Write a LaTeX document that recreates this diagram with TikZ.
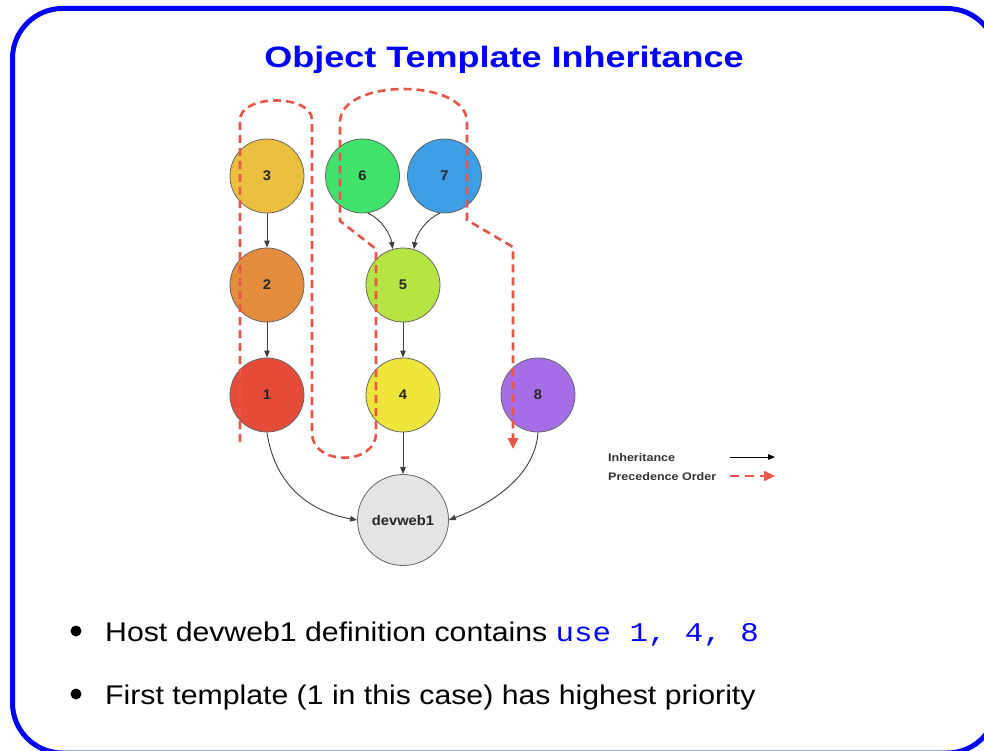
\documentclass[tikz,border=0pt]{standalone}
\usepackage{fontspec}
\setmainfont{Liberation Sans}
\newfontfamily\titlefont{Liberation Sans}[FakeStretch=1.22]
\newfontfamily\bodyfont{Liberation Sans}[FakeStretch=1.12]
\newfontfamily\codefont{Liberation Mono}[FakeStretch=1.14]
\newfontfamily\labfont{Liberation Sans}[FakeStretch=1.05]
\newfontfamily\legfont{Liberation Sans}[FakeStretch=1.14]
\usetikzlibrary{arrows.meta}
\definecolor{c3}{RGB}{235,192,63}
\definecolor{c2}{RGB}{229,141,63}
\definecolor{c1}{RGB}{230,75,58}
\definecolor{c6}{RGB}{63,226,106}
\definecolor{c7}{RGB}{61,158,228}
\definecolor{c5}{RGB}{182,228,67}
\definecolor{c4}{RGB}{237,229,58}
\definecolor{c8}{RGB}{165,110,230}
\definecolor{cdev}{RGB}{228,228,228}
\definecolor{preccol}{RGB}{232,86,74}
\definecolor{slideblue}{RGB}{0,0,255}
\tikzset{
  tnode/.style={circle, minimum size=74pt, inner sep=0pt, draw=black!60, line width=0.8pt,
    font=\labfont\bfseries\fontsize{14}{14}\selectfont, text=black!85},
  inh/.style={-{Triangle[length=7pt,width=5.5pt]}, line width=0.9pt, draw=black!75},
  precpath/.style={draw=preccol, line width=2.6pt, dash pattern=on 8pt off 5pt,
    -{Triangle[length=11pt,width=10pt]}},
  legtext/.style={anchor=base west, inner sep=0pt, font=\legfont\bfseries\fontsize{11}{11}\selectfont, text=black!80},
  bulletdot/.style={circle, fill=black, minimum size=11pt, inner sep=0pt},
  bullettext/.style={anchor=base west, inner sep=0pt, font=\bodyfont\fontsize{27}{30}\selectfont}
}
\begin{document}
\begin{tikzpicture}[x=1pt,y=-1pt]
\useasboundingbox (0,0) rectangle (984,751);
\clip (0,0) rectangle (984,751);
\fill[white] (0,0) rectangle (984,751);
% slide frame
\draw[slideblue, line width=5pt, rounded corners=50pt] (12.5,8.5) rectangle (997,753);
% title
\node[anchor=base, inner sep=0pt, font=\titlefont\bfseries\fontsize{29.5}{30}\selectfont, text=slideblue] (title) at (504,67.7) {Object Template Inheritance};
% template nodes
\node[tnode, fill=c3] (n3) at (267,176) {3};
\node[tnode, fill=c6] (n6) at (362.5,176) {6};
\node[tnode, fill=c7] (n7) at (444.5,176) {7};
\node[tnode, fill=c2] (n2) at (267,285) {2};
\node[tnode, fill=c5] (n5) at (403,285) {5};
\node[tnode, fill=c1] (n1) at (267,395) {1};
\node[tnode, fill=c4] (n4) at (403,395) {4};
\node[tnode, fill=c8] (n8) at (538,395) {8};
\node[tnode, fill=cdev, minimum size=91pt] (dev) at (403,520) {devweb1};
% inheritance arrows
\draw[inh] (n3) -- (n2);
\draw[inh] (n2) -- (n1);
\draw[inh] (n5) -- (n4);
\draw[inh] (n4) -- (dev);
\draw[inh] (n6.-82) .. controls +(14,6) and +(-2,-14) .. (n5.106);
\draw[inh] (n7.-97) .. controls +(-14,6) and +(2,-14) .. (n5.73);
\draw[inh] (n1.-90) .. controls +(8,55) and +(-45,-8) .. (dev.180);
\draw[inh] (n8.-90) .. controls +(-3,45) and +(40,-15) .. (dev.0);
% precedence order path
\draw[precpath] (240,442) -- (240,120) .. controls (240,94) and (312,94) .. (312,120)
  -- (312,433) .. controls (312,466) and (376,466) .. (376,433)
  -- (376,249) -- (340,221) -- (340,122) .. controls (340,78) and (467,78) .. (467,122)
  -- (467,220) -- (513,247) -- (513,449);
% legend
\node[legtext] (lg1) at (608,461) {Inheritance};
\node[legtext] (lg2) at (608,480) {Precedence Order};
\coordinate (la) at (730,457);
\coordinate (lb) at (775,457);
\coordinate (pa) at (730,476);
\coordinate (pb) at (775,476);
\draw[-{Triangle[length=7pt,width=5.5pt]}, line width=0.9pt, black] (la) -- (lb);
\draw[draw=preccol, line width=2.2pt, dash pattern=on 9pt off 6pt, -{Triangle[length=11pt,width=10pt]}] (pa) -- (pb);
% bullets
\node[bulletdot] (b1) at (76,631) {};
\node[bullettext] (t1) at (105,641) {Host devweb1 definition contains {\codefont\color{slideblue}use 1, 4, 8}};
\node[bulletdot] (b2) at (76,694) {};
\node[bullettext] (t2) at (105,704) {First template (1 in this case) has highest priority};
\end{tikzpicture}
\end{document}
